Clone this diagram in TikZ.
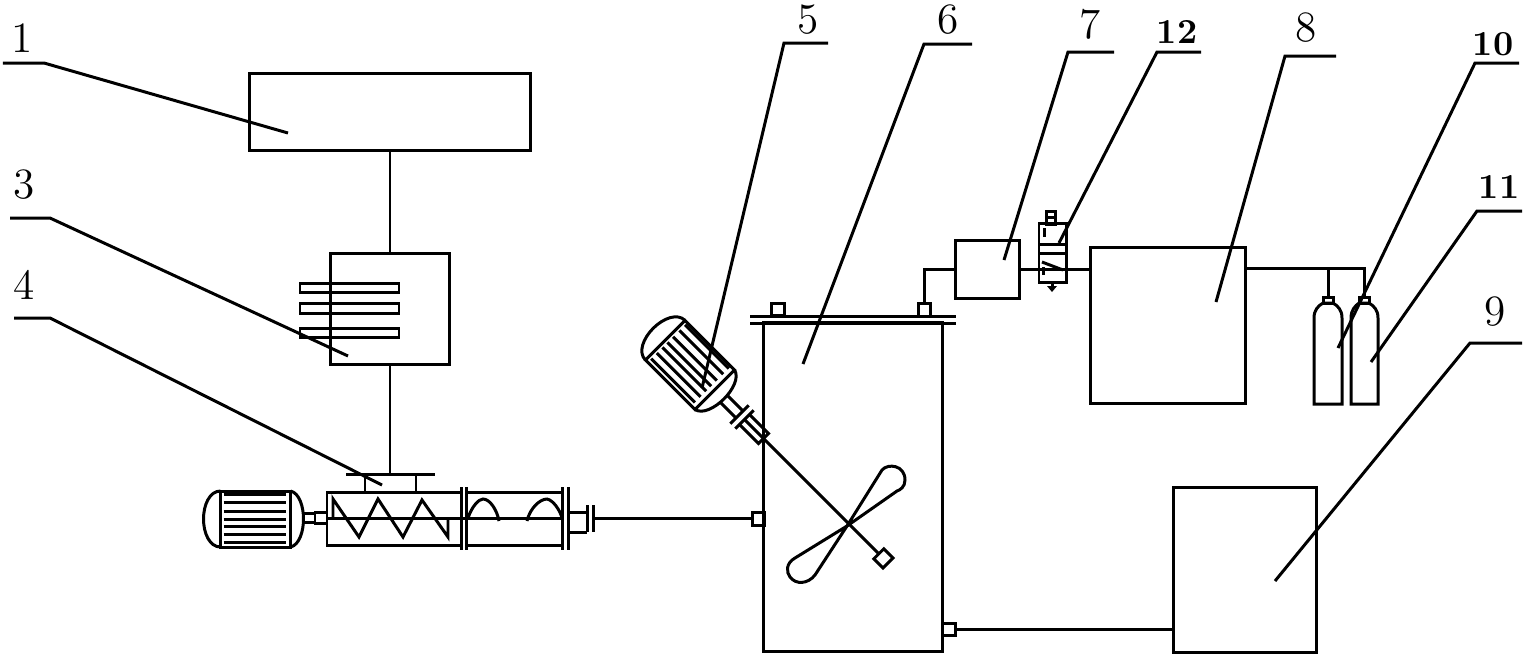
\documentclass[tikz,border=0pt]{standalone}
\newcommand{\motordraw}{
\draw (-35,-28) rectangle (35,28);
\draw (-35,-28) .. controls (-46,-28) and (-52,-14) .. (-52,0) .. controls (-52,14) and (-46,28) .. (-35,28);
\draw (35,-28) .. controls (44,-26) and (48,-12) .. (48,0) .. controls (48,12) and (44,26) .. (35,28);
\foreach \y in {-25,-17,-8,0,7,15,23} \draw (-32,\y)--(30,\y);
}
\tikzset{
box/.style={draw,rectangle,inner sep=0pt},
tag/.style={inner sep=0pt,font=\fontsize{12.3}{14}\selectfont},
tagb/.style={inner sep=0pt,font=\fontsize{10}{12}\selectfont\bfseries},
}
\begin{document}
\begin{tikzpicture}[x=0.01cm,y=-0.01cm,line width=0.85pt]
\useasboundingbox (0,0) rectangle (1530,657);
% boxes
\node[box,minimum width=2.81cm,minimum height=0.76cm] (feeder) at (390,112) {};
\node[box,minimum width=1.18cm,minimum height=1.10cm] (dryer) at (390,309) {};
\node[box,minimum width=1.78cm,minimum height=3.28cm] (tank) at (853,487) {};
\node[box,minimum width=0.63cm,minimum height=0.57cm] (filter) at (987.5,269.5) {};
\node[box,minimum width=0.27cm,minimum height=0.58cm] (valve) at (1052.5,253) {};
\node[box,minimum width=1.54cm,minimum height=1.55cm] (mixer) at (1168,325.5) {};
\node[box,minimum width=1.42cm,minimum height=1.64cm] (store) at (1245,570) {};
\node[box,minimum width=0.12cm,minimum height=0.13cm] (portin) at (758,518.5) {};
\node[box,minimum width=0.13cm,minimum height=0.12cm] (portout) at (948.5,629) {};
\node[box,minimum width=0.12cm,minimum height=0.13cm] (portgas) at (924,309.5) {};
\node[box,minimum width=0.13cm,minimum height=0.12cm] (portlid) at (778,309.5) {};
\node[box,minimum width=0.10cm,minimum height=0.06cm] (neckA) at (1328,300) {};
\node[box,minimum width=0.10cm,minimum height=0.06cm] (neckB) at (1364,300) {};
\coordinate (hopper) at (390,474);
\coordinate (flange) at (593,518.5);
\coordinate (tee) at (1364,268);
% fins
\draw (300,283) rectangle (399,292);
\draw (300,303) rectangle (399,313);
\draw (300,328) rectangle (399,337);
% tank lid
\draw (750,316)--(956,316);
\draw (750,323)--(956,323);
% connectors
\draw (feeder)--(dryer);
\draw (dryer)--(hopper);
\draw (flange)--(portin);
\draw (portout)--(portout-|store.west);
\draw (portgas.north)|-(filter.west);
\draw (filter.east)--(filter.east-|mixer.west);
\draw (mixer.east|-tee)--(tee)--(neckB.north);
\draw (neckA.north|-tee)--(neckA.north);
% hopper and screw
\draw (346,474)--(435,474);
\draw (365,474)--(365,492);
\draw (416,474)--(416,492);
\draw (327,492) rectangle (461,545);
\draw (466,492) rectangle (562,545);
\draw (461,487)--(461,550);
\draw (466,487)--(466,550);
\draw (562,487)--(562,550);
\draw (568,487)--(568,550);
\draw (327,518)--(562,518);
\draw (333,518)--(333,499)--(359,537)--(378,499)--(403,537)--(422,500)--(448,537)--(448,518);
\draw (468,518) .. controls (472,506) and (479,499) .. (483,499) .. controls (490,499) and (497,510) .. (499,521);
\draw (527,521) .. controls (530,508) and (540,499) .. (547,499) .. controls (553,500) and (560,510) .. (562,518);
\draw (568,512)--(587,512);
\draw (568,532)--(587,532);
\draw (587,505)--(587,532);
\draw (593,505)--(593,532);
% motor of the screw
\draw (303,513) rectangle (315,522);
\draw (315,512) rectangle (327,523);
\begin{scope}[shift={(255.5,519)}]
\motordraw
\end{scope}
% stirrer motor
\begin{scope}[shift={(690,365)},rotate=-45]
\motordraw
\draw (48,-5)--(70,-5);
\draw (48,5)--(70,5);
\draw (70,-13)--(70,13);
\draw (77,-13)--(77,13);
\draw (77,-7)--(104,-7)--(104,7)--(77,7);
\draw (77,0)--(267,0);
\draw (267,-7) rectangle (280,7);
\end{scope}
% paddle
\draw (847,526)--(882,470) .. controls (888,463) and (905,465) .. (905,480) .. controls (905,487) and (900,490) .. (897,491)--cycle;
\draw (847,526)--(795,558) .. controls (786,563) and (786,572) .. (790,577) .. controls (796,585) and (808,584) .. (815,575)--cycle;
% valve details
\draw (1039,244)--(1066,244);
\draw (1039,253)--(1066,253);
\draw (1046,211) rectangle (1055,224);
\draw (1047,217)--(1054,217);
\draw (1044,228)--(1044,237);
\draw (1043,267)--(1043,275);
\draw (1042,262)--(1063,270);
\draw (1052,282)--(1052,290);
\fill (1047,286)--(1057,286)--(1052,292)--cycle;
% bottles
\draw (1314,404)--(1314,318) .. controls (1314,310) and (1318,306) .. (1323,303)--(1333,303) .. controls (1338,306) and (1342,310) .. (1342,318)--(1342,404)--cycle;
\draw (1351,404)--(1351,318) .. controls (1351,310) and (1355,306) .. (1359,303)--(1369,303) .. controls (1374,306) and (1378,310) .. (1378,318)--(1378,404)--cycle;
% labels
\node[tag] (n1) at (22,38) {1};
\node[tag] (n3) at (24,185) {3};
\node[tag] (n4) at (24,285) {4};
\node[tag] (n5) at (808,20) {5};
\node[tag] (n6) at (948,20) {6};
\node[tag] (n7) at (1090,24) {7};
\node[tag] (n8) at (1306,28) {8};
\node[tag] (n9) at (1495,312) {9};
\node[tagb] (n10) at (1493,44) {10};
\node[tagb] (n11) at (1499,187) {11};
\node[tagb] (n12) at (1177,32) {12};
% leaders
\draw (3,63)--(44,63)--(288,133);
\draw (10,218)--(50,218)--(348,356);
\draw (14,318)--(50,318)--(382,485);
\draw (828,43)--(784,43)--(702,388);
\draw (972,44)--(924,44)--(803,364);
\draw (1114,52)--(1068,52)--(1004,260);
\draw (1201,52)--(1157,52)--(1059,243);
\draw (1336,56)--(1285,56)--(1216,302);
\draw (1522,343)--(1470,343)--(1275,581);
\draw (1519,63)--(1475,63)--(1338,348);
\draw (1522,211)--(1477,211)--(1371,362);
\end{tikzpicture}
\end{document}
